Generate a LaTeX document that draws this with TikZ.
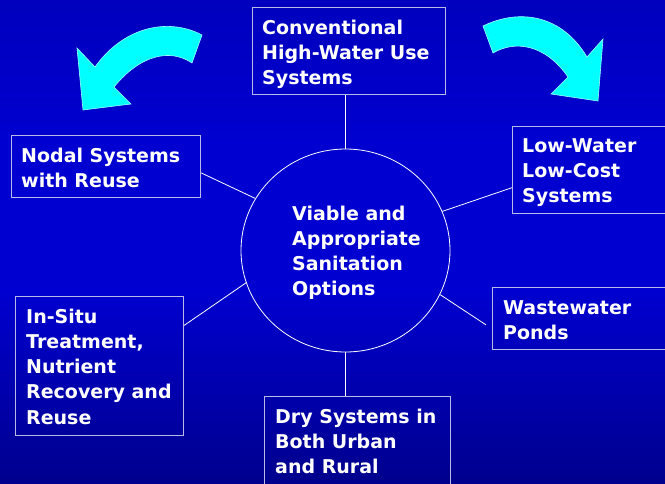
\documentclass[tikz,border=0pt]{standalone}
\usepackage{fontspec}
\setmainfont{DejaVu Sans}
\usetikzlibrary{shapes.geometric,calc}
\definecolor{bgtop}{RGB}{0,0,160}
\definecolor{bgmid}{RGB}{0,0,208}
\definecolor{bgbot}{RGB}{0,0,58}
\definecolor{boxline}{RGB}{185,185,230}
\definecolor{arrowcyan}{RGB}{0,255,255}
\pgfdeclareverticalshading{bgshade}{100bp}{color(0bp)=(bgbot); color(45bp)=(bgmid); color(60bp)=(bgmid); color(100bp)=(bgtop)}
\tikzset{
  boxnode/.style={draw=boxline, line width=1.1pt, rectangle, inner sep=0pt, anchor=north west},
  lbl/.style={text=white, font=\bfseries\fontsize{19}{25.3}\selectfont, align=left, anchor=base west, inner sep=0pt},
  conn/.style={draw=white, line width=0.8pt},
  bigarrow/.style={fill=arrowcyan, draw=white!60!arrowcyan, line width=0.6pt}
}
\begin{document}
\begin{tikzpicture}[x=1pt,y=-1pt]
\useasboundingbox (0,0) rectangle (665,483);
\shade[shading=bgshade] (0,0) rectangle (665,483);

% curved arrows
\filldraw[bigarrow] (202,35) .. controls (170,18) and (125,25) .. (95,67)
  -- (77,48) -- (83,110) -- (131,104) -- (114,87)
  .. controls (140,55) and (170,48) .. (192,63) -- cycle;
\filldraw[bigarrow] (483,26) .. controls (520,8) and (562,15) .. (587,57)
  -- (603,39) -- (598,101) -- (551,94) -- (568,77)
  .. controls (545,44) and (515,40) .. (493,53) -- cycle;

% boxes
\node[boxnode, minimum width=193pt, minimum height=87pt] (top) at (252,7) {};
\node[boxnode, minimum width=189pt, minimum height=62pt] (nodal) at (11,135) {};
\node[boxnode, minimum width=160pt, minimum height=87pt] (low) at (512,126) {};
\node[boxnode, minimum width=180pt, minimum height=62pt] (ww) at (492,287) {};
\node[boxnode, minimum width=168pt, minimum height=139pt] (insitu) at (15,296) {};
\node[boxnode, minimum width=186pt, minimum height=100pt] (dry) at (264,396) {};
\node[draw=white, line width=0.8pt, ellipse, minimum width=209pt, minimum height=203pt, inner sep=0pt] (c) at (345.5,250.5) {};

% texts (anchor = baseline of last line)
\node[lbl] (ttop) at (262,84.6) {Conventional\\High-Water Use\\Systems};
\node[lbl] (tnodal) at (21,187.3) {Nodal Systems\\with Reuse};
\node[lbl] (tlow) at (522,202.6) {Low-Water\\Low-Cost\\Systems};
\node[lbl] (tc) at (292,295.9) {Viable and\\Appropriate\\Sanitation\\Options};
\node[lbl] (tww) at (503,339.3) {Wastewater\\Ponds};
\node[lbl] (tinsitu) at (26,424.2) {In-Situ\\Treatment,\\Nutrient\\Recovery and\\Reuse};
\node[lbl] (tdry) at (275,473.6) {Dry Systems in\\Both Urban\\and Rural};

% connectors
\coordinate (wwend) at ($($(ww.north west)!0.6!(ww.south west)$)+(-6,0)$);
\draw[conn] (c.north) -- (c.north |- top.south);
\draw[conn] (c.150) -- ($(nodal.north east)!0.6!(nodal.south east)$);
\draw[conn] (c.22) -- ($(low.north west)!0.7!(low.south west)$);
\draw[conn] (c.198) -- ($(insitu.north east)!0.21!(insitu.south east)$);
\draw[conn] (c.-25) -- (wwend);
\draw[conn] (c.south) -- (c.south |- dry.north);
\end{tikzpicture}
\end{document}
